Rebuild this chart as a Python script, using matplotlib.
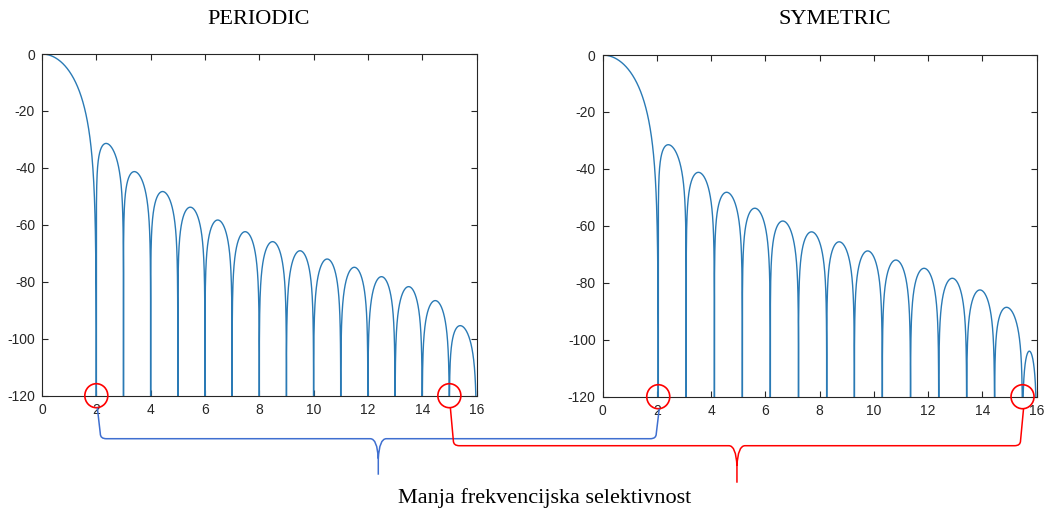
import numpy as np
import matplotlib
matplotlib.use("Agg")
import matplotlib.pyplot as plt
from matplotlib.path import Path
from matplotlib.patches import PathPatch, Ellipse
from matplotlib.transforms import IdentityTransform

plt.rcParams["axes.unicode_minus"] = False

# --- values (frequency bins / dB) ---
# main lobe: 0 dB at x=0, first null
periodic_main_null = 2.0
symmetric_main_null = 2.05

# side lobes: nulls (lobe edges), peak positions and peak levels
periodic_nulls = [2.0, 3.0, 4.0, 5.0, 6.0, 7.0, 8.0, 9.0, 10.0, 11.0, 12.0, 13.0, 14.0, 15.0, 16.0]
periodic_peak_x = [2.36, 3.40, 4.44, 5.46, 6.47, 7.48, 8.49, 9.50, 10.50, 11.50, 12.50, 13.50, 14.48, 15.40]
periodic_peak_db = [-31.4, -41.3, -48.3, -53.8, -58.3, -62.4, -65.9, -69.1, -72.0, -74.9, -78.2, -81.7, -86.6, -95.4]

symmetric_nulls = [2.05, 3.08, 4.12, 5.15, 6.18, 7.22, 8.26, 9.28, 10.31, 11.35, 12.39, 13.42, 14.45, 15.48, 16.0]
symmetric_peak_x = [2.42, 3.53, 4.57, 5.61, 6.64, 7.70, 8.72, 9.77, 10.81, 11.85, 12.89, 13.91, 14.89, 15.73]
symmetric_peak_db = [-31.5, -41.2, -48.2, -53.8, -58.3, -62.1, -65.6, -68.8, -72.0, -74.9, -78.4, -82.5, -88.6, -104.0]

titles = ["PERIODIC", "SYMETRIC"]
caption = "Manja frekvencijska selektivnost"
x_ticks = [0, 2, 4, 6, 8, 10, 12, 14, 16]
y_ticks = [-120, -100, -80, -60, -40, -20, 0]

LINE = "#2a7ab5"
AX = "#262626"


def build_curve(main_null, nulls, peak_x, peak_db, n=400):
    # main lobe from 0 dB down to the first null
    xm = np.linspace(0, main_null, n)
    ym = 40 * np.log10(np.cos(np.pi * xm / (2 * main_null)).clip(1e-12))
    xs, ys = [xm], [ym]
    # each side lobe between two nulls, peak placed where it was read
    for a, b, px_, pdb in zip(nulls[:-1], nulls[1:], peak_x, peak_db):
        x = np.linspace(a, b, n)
        t = (x - a) / (b - a)
        alpha = np.log(0.5) / np.log((px_ - a) / (b - a))
        u = np.sin(np.pi * t ** alpha).clip(1e-12)
        xs.append(x)
        ys.append(pdb + 20 * np.log10(u))
    return np.concatenate(xs), np.concatenate(ys)


fig = plt.figure(figsize=(10.45, 5.09), dpi=100)
ax1 = fig.add_axes([0.0402, 0.2226, 0.4158, 0.6713])
ax2 = fig.add_axes([0.5767, 0.2206, 0.4153, 0.6713])

curves = [
    build_curve(periodic_main_null, periodic_nulls, periodic_peak_x, periodic_peak_db),
    build_curve(symmetric_main_null, symmetric_nulls, symmetric_peak_x, symmetric_peak_db),
]

for ax, (x, y) in zip([ax1, ax2], curves):
    ax.plot(x, y, color=LINE, lw=1.0)
    ax.set_xlim(0, 16)
    ax.set_ylim(-120, 0)
    ax.set_xticks(x_ticks)
    ax.set_yticks(y_ticks)
    ax.tick_params(direction="in", length=4, width=0.8, top=True, right=True,
                   labelsize=10, colors=AX, pad=5)
    for lab in ax.get_xticklabels() + ax.get_yticklabels():
        lab.set_fontfamily("Liberation Sans")
    for s in ax.spines.values():
        s.set_color(AX)
        s.set_linewidth(0.8)

serif = "Liberation Serif"
fig.text(259 / 1045, 1 - 19 / 509, titles[0], ha="center", va="center",
         fontsize=16, family=serif)
fig.text(835 / 1045, 1 - 19 / 509, titles[1], ha="center", va="center",
         fontsize=16, family=serif)
fig.text(545 / 1045, 1 - 498 / 509, caption, ha="center", va="center",
         fontsize=16, family=serif)


def px(ax, x, y):
    return ax.transData.transform((x, y))


def brace(p_left, p_right, depth, tip_len, color):
    # curly-brace style connector hanging below two marked points (display coords)
    xl, yl = p_left
    xr, yr = p_right
    yh = min(yl, yr) - depth
    xm = (xl + xr) / 2
    verts = [
        # left arm
        (xl, yl), (xl + 3, yh + 5), (xl + 3, yh), (xl + 9, yh),
        (xm - 8, yh),
        # cusp, left side
        (xm - 1, yh), (xm, yh - 20),
        (xm, yh - tip_len),
        # cusp, right side
        (xm, yh - 20), (xm + 1, yh), (xm + 8, yh),
        (xr - 9, yh),
        # right arm
        (xr - 3, yh), (xr - 3, yh + 5), (xr, yr),
    ]
    codes = [Path.MOVETO, Path.LINETO, Path.CURVE3, Path.CURVE3,
             Path.LINETO,
             Path.CURVE3, Path.CURVE3,
             Path.LINETO,
             Path.MOVETO, Path.CURVE3, Path.CURVE3,
             Path.LINETO,
             Path.CURVE3, Path.CURVE3, Path.LINETO]
    patch = PathPatch(Path(verts, codes), fill=False, edgecolor=color, lw=1.1,
                      transform=IdentityTransform())
    fig.add_artist(patch)


marks = [(ax1, periodic_nulls[0]), (ax1, periodic_nulls[-2]),
         (ax2, symmetric_nulls[0]), (ax2, symmetric_nulls[-2])]
centers = []
for ax, xv in marks:
    c = px(ax, xv, -120)
    centers.append(c)
    fig.add_artist(Ellipse(c, 23, 24, fill=False, edgecolor="red", lw=1.2,
                           transform=IdentityTransform()))

b0 = [(c[0] + 1, c[1] - 12) for c in centers]
brace(b0[0], b0[2], 30, 36, "#3f6fd0")
brace(b0[1], b0[3], 37, 37, "red")

fig.savefig("out.png", dpi=100)
